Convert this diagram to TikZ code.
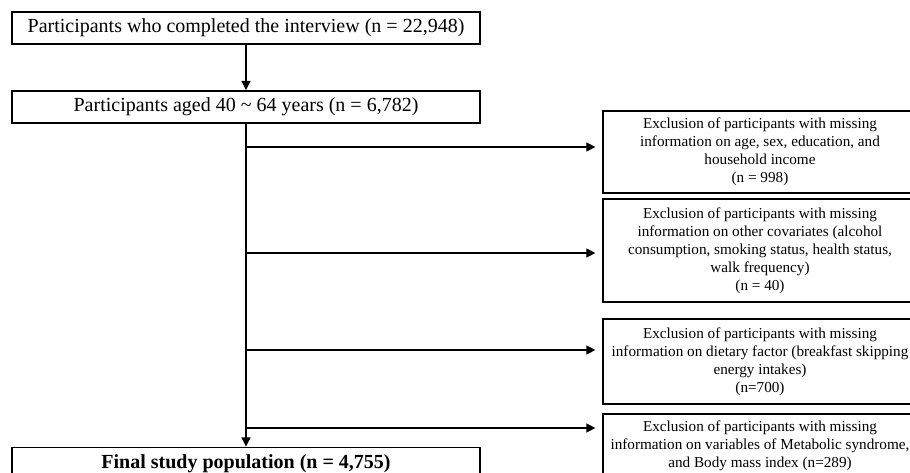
\documentclass[tikz,border=0pt]{standalone}
\usepackage{fontspec}
\setmainfont{Liberation Serif}
\usetikzlibrary{arrows.meta}

\begin{document}
\begin{tikzpicture}[x=0.75pt,y=-0.75pt,
  box/.style={draw,line width=1.1pt,minimum width=351pt,minimum height=24pt,
              inner sep=0pt,align=center,font=\fontsize{15}{18}\selectfont},
  exbox/.style={draw,line width=1.1pt,minimum width=235.5pt,inner sep=0pt,
                align=center,font=\fontsize{11.4}{13.5}\selectfont},
  arr/.style={-{Triangle[length=7pt,width=6.5pt]},line width=1.7pt},
]
\useasboundingbox (0,0) rectangle (910,473);
\clip (0,0) rectangle (910,473);
\node[box] (inter) at (246,28) {Participants who completed the interview (n = 22,948)};
\node[box] (aged) at (246,107) {Participants aged 40 \textasciitilde{} 64 years (n = 6,782)};
\node[box] (final) at (246,463.5) {\textbf{Final study population (n = 4,755)}};
\node[exbox,minimum height=61.5pt] (ex1) at (760,152)
  {Exclusion of participants with missing\\information on age, sex, education, and\\household income\\(n = 998)};
\node[exbox,minimum height=77.25pt] (ex2) at (760,250.5)
  {Exclusion of participants with missing\\information on other covariates (alcohol\\consumption, smoking status, health status,\\walk frequency)\\(n = 40)};
\node[exbox,minimum height=63.75pt] (ex3) at (760,361.5)
  {Exclusion of participants with missing\\information on dietary factor (breakfast skipping\\energy intakes)\\(n=700)};
\node[exbox,minimum height=48pt] (ex4) at (760,446)
  {Exclusion of participants with missing\\information on variables of Metabolic syndrome,\\and Body mass index (n=289)};
\coordinate (b1) at (246,147);
\coordinate (b2) at (246,253);
\coordinate (b3) at (246,350);
\coordinate (b4) at (246,428);
\draw[arr] (inter) -- (aged);
\draw[arr] (aged) -- (final);
\draw[arr,shorten >=5pt] (b1) -- (ex1.west |- b1);
\draw[arr,shorten >=5pt] (b2) -- (ex2.west |- b2);
\draw[arr,shorten >=5pt] (b3) -- (ex3.west |- b3);
\draw[arr,shorten >=5pt] (b4) -- (ex4.west |- b4);
\end{tikzpicture}
\end{document}
